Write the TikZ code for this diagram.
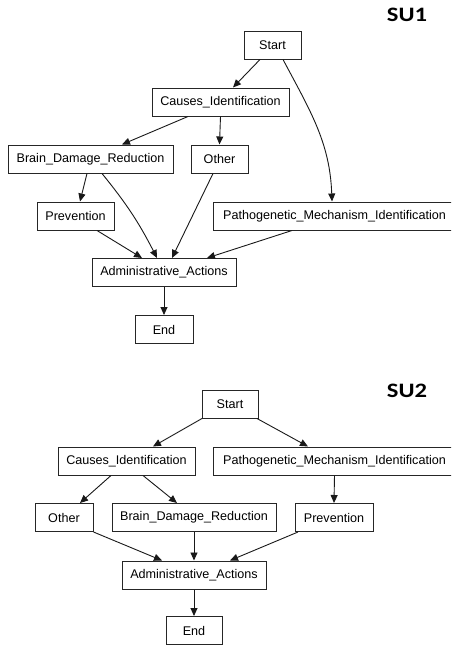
\documentclass[tikz,border=0pt]{standalone}
\usepackage{fontspec}
\setmainfont{Liberation Sans}
\newfontfamily\titlefont{Carlito}
\usetikzlibrary{arrows.meta}
\tikzset{
  box/.style={draw=black!85, line width=1pt, rectangle, minimum height=28pt,
    inner sep=0pt, font=\fontsize{12.6}{14}\selectfont, text=black},
  edge/.style={draw=black!90, line width=0.9pt, -{Triangle[length=8pt,width=7pt]}},
  title/.style={font=\titlefont\bfseries\fontsize{20.5}{22}\selectfont, xscale=1.2, inner sep=0pt}
}
\begin{document}
\begin{tikzpicture}[x=1pt, y=-1pt]
\useasboundingbox (0,0) rectangle (451,645);
\fill[white] (0,0) rectangle (451,645);
\begin{scope}
\clip (0,0) rectangle (451,645);

% ---------- SU1 ----------
\node[title] (t1) at (407,15) {SU1};
\node[box, minimum width=57pt]  (s1start) at (272.5,45)  {Start};
\node[box, minimum width=137pt] (s1cause) at (220.5,102) {Causes\_Identification};
\node[box, minimum width=165pt] (s1bdr)   at (90.5,159)  {Brain\_Damage\_Reduction};
\node[box, minimum width=57pt]  (s1other) at (219.5,159) {Other};
\node[box, minimum width=77pt]  (s1prev)  at (75.5,216)  {Prevention};
\node[box, minimum width=243pt] (s1patho) at (334.5,216) {Pathogenetic\_Mechanism\_Identification};
\node[box, minimum width=144pt] (s1admin) at (164,272.5) {Administrative\_Actions};
\node[box, minimum width=58pt]  (s1end)   at (164,329.5) {End};

\draw[edge] ([xshift=-12.5pt]s1start.south) -- ([xshift=12.5pt]s1cause.north);
\draw[edge] ([xshift=10.5pt]s1start.south) to[out=-62, in=92] ([xshift=-2.5pt]s1patho.north);
\draw[edge] ([xshift=-32.5pt]s1cause.south) -- ([xshift=31.5pt]s1bdr.north);
\draw[edge] (s1cause.south) -- (s1other.north);
\draw[edge] ([xshift=-3.5pt]s1bdr.south) -- ([xshift=4.5pt]s1prev.north);
\draw[edge] ([xshift=11.5pt]s1bdr.south) to[bend left=6] ([xshift=-7pt]s1admin.north);
\draw[edge] ([xshift=21.5pt]s1prev.south) -- ([xshift=-22pt]s1admin.north);
\draw[edge] ([xshift=-6.5pt]s1other.south) -- ([xshift=8pt]s1admin.north);
\draw[edge] ([xshift=-42.5pt]s1patho.south) -- ([xshift=43pt]s1admin.north);
\draw[edge] (s1admin.south) -- (s1end.north);

% ---------- SU2 ----------
\node[title] (t2) at (407,391) {SU2};
\node[box, minimum width=56pt]  (s2start) at (230,404)   {Start};
\node[box, minimum width=137pt] (s2cause) at (126.5,461) {Causes\_Identification};
\node[box, minimum width=243pt] (s2patho) at (334.5,461) {Pathogenetic\_Mechanism\_Identification};
\node[box, minimum width=58pt]  (s2other) at (64,517.5)  {Other};
\node[box, minimum width=164pt] (s2bdr)   at (194,517.5) {Brain\_Damage\_Reduction};
\node[box, minimum width=78pt]  (s2prev)  at (334,517.5) {Prevention};
\node[box, minimum width=144pt] (s2admin) at (194,575)   {Administrative\_Actions};
\node[box, minimum width=56pt]  (s2end)   at (194,630.5) {End};

\draw[edge] ([xshift=-28pt]s2start.south) -- ([xshift=26.5pt]s2cause.north);
\draw[edge] ([xshift=27pt]s2start.south) -- ([xshift=-26.5pt]s2patho.north);
\draw[edge] ([xshift=-15.5pt]s2cause.south) -- ([xshift=16pt]s2other.north);
\draw[edge] ([xshift=16.5pt]s2cause.south) -- ([xshift=-17pt]s2bdr.north);
\draw[edge] (s2patho.south) -- (s2prev.north);
\draw[edge] (s2other.south east) -- ([xshift=-32pt]s2admin.north);
\draw[edge] (s2bdr.south) -- (s2admin.north);
\draw[edge] ([xshift=-36pt]s2prev.south) -- ([xshift=36pt]s2admin.north);
\draw[edge] (s2admin.south) -- (s2end.north);
\end{scope}
\end{tikzpicture}
\end{document}
